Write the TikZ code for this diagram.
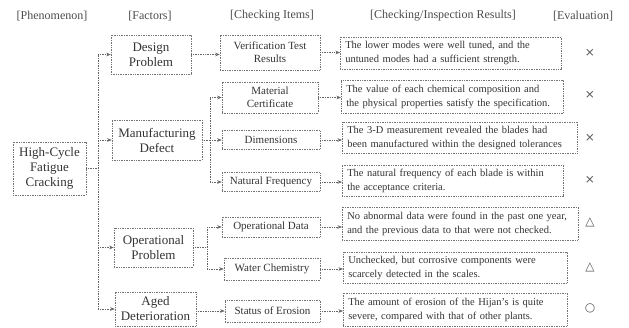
\documentclass[tikz,border=0pt]{standalone}
\usepackage{fontspec}
\setmainfont{Liberation Serif}
\newfontfamily\symbolfont{DejaVu Sans}
\usetikzlibrary{
  calc,
  arrows.meta,
  positioning}

\begin{document}
\begin{tikzpicture}[x=1pt,y=-1pt]
  \tikzset{box/.style={draw=black!55,
                       dash pattern=on 0.8pt off 0.9pt,
                       line width=0.5pt,
                       text=black!80,
                       align=center,
                       inner sep=2pt},
           factorbox/.style={box,font=\fontsize{13}{15}\selectfont},
           itembox/.style={box,font=\fontsize{11}{13}\selectfont},
           resultbox/.style={box,anchor=west,align=left,inner xsep=5pt,
                             font=\fontsize{10.5}{14}\selectfont},
           header/.style={text=black!70,font=\fontsize{12}{14}\selectfont},
           evalmark/.style={text=black!65,font=\symbolfont\fontsize{12}{14}\selectfont},
           link/.style={draw=black!60,dash pattern=on 0.8pt off 0.9pt,line width=0.5pt},
           arrowlink/.style={link,-{Stealth[length=4.5pt,width=3.5pt]}}
          }

\useasboundingbox (0,0) rectangle (629,327);

%%%%%%%%%%%%%%%%%%%%%%%%%%%%%%%%%%%%%%%%%%%%%%%%%%%%%%%%%%%%%%%%%%%%%%%%%%%%%%

\node[header] (HPH) at (52,16) {[Phenomenon]};
\node[header] (HFA) at (150,16) {[Factors]};
\node[header] (HCI) at (272,16) {[Checking Items]};
\node[header] (HCR) at (443,16) {[Checking/Inspection Results]};
\node[header] (HEV) at (583,16) {[Evaluation]};

%%%%%%%%%%%%%%%%%%%%%%%%%%%%%%%%%%%%%%%%%%%%%%%%%%%%%%%%%%%%%%%%%%%%%%%%%%%%%%

\node[factorbox,minimum width=73pt,minimum height=53pt] (HCFC) at (49.5,168.5) {High-Cycle\\Fatigue\\Cracking};

\node[factorbox,minimum width=80pt,minimum height=39pt] (DP) at (151,54.5) {Design\\Problem};
\node[factorbox,minimum width=90pt,minimum height=40pt] (MD) at (157,140) {Manufacturing\\Defect};
\node[factorbox,minimum width=79pt,minimum height=39pt] (OP) at (153.5,247.5) {Operational\\Problem};
\node[factorbox,minimum width=81pt,minimum height=34pt] (AD) at (155.5,309) {Aged\\Deterioration};

%%%%%%%%%%%%%%%%%%%%%%%%%%%%%%%%%%%%%%%%%%%%%%%%%%%%%%%%%%%%%%%%%%%%%%%%%%%%%%

\node[itembox,minimum width=100pt,minimum height=35pt] (VTR) at (270,52.5) {Verification Test\\Results};
\node[itembox,minimum width=96pt,minimum height=31pt] (MC) at (270,97.5) {Material\\Certificate};
\node[itembox,minimum width=98pt,minimum height=19pt] (DIM) at (271,140) {Dimensions};
\node[itembox,minimum width=98pt,minimum height=19pt] (NF) at (271,182) {Natural Frequency};
\node[itembox,minimum width=98pt,minimum height=20pt] (OD) at (271,227) {Operational Data};
\node[itembox,minimum width=96pt,minimum height=22pt] (WC) at (272,269) {Water Chemistry};
\node[itembox,minimum width=95pt,minimum height=22pt] (SE) at (272.5,311) {Status of Erosion};

%%%%%%%%%%%%%%%%%%%%%%%%%%%%%%%%%%%%%%%%%%%%%%%%%%%%%%%%%%%%%%%%%%%%%%%%%%%%%%

\node[resultbox,text width=211pt,minimum height=32pt] (R1) at (340,53) {The lower modes were well tuned, and the\\untuned modes had a sufficient strength.};
\node[resultbox,text width=212pt,minimum height=33pt] (R2) at (341,96.5) {The value of each chemical composition and\\the physical properties satisfy the specification.};
\node[resultbox,text width=225pt,minimum height=31pt] (R3) at (342,137.5) {The 3-D measurement revealed the blades had\\been manufactured within the designed tolerances};
\node[resultbox,text width=211pt,minimum height=31pt] (R4) at (342,180.5) {The natural frequency of each blade is within\\the acceptance criteria.};
\node[resultbox,text width=226pt,minimum height=33pt] (R5) at (342,223.5) {No abnormal data were found in the past one year,\\and the previous data to that were not checked.};
\node[resultbox,text width=214pt,minimum height=31pt] (R6) at (343,267.5) {Unchecked, but corrosive components were\\scarcely detected in the scales.};
\node[resultbox,text width=214pt,minimum height=33pt] (R7) at (343,309.5) {The amount of erosion of the Hijan's is quite\\severe, compared with that of other plants.};

%%%%%%%%%%%%%%%%%%%%%%%%%%%%%%%%%%%%%%%%%%%%%%%%%%%%%%%%%%%%%%%%%%%%%%%%%%%%%%

\node[evalmark] (E1) at (590,53) {×};
\node[evalmark] (E2) at (590,95) {×};
\node[evalmark] (E3) at (590,138) {×};
\node[evalmark] (E4) at (590,180) {×};
\node[evalmark] (E5) at (590,222) {△};
\node[evalmark] (E6) at (590,267) {△};
\node[evalmark] (E7) at (590,308) {○};

%%%%%%%%%%%%%%%%%%%%%%%%%%%%%%%%%%%%%%%%%%%%%%%%%%%%%%%%%%%%%%%%%%%%%%%%%%%%%%

\coordinate (T) at ($(HCFC.east)+(12,0)$);
\coordinate (TM) at ($(MD.east)+(8,0)$);
\coordinate (TO) at ($(OP.east)+(14,0)$);

\draw[link]  (HCFC.east) -- (T);
\draw[link]  (T |- DP.west) -- (T |- AD.west);
\draw[arrowlink]  (T |- DP.west) -- (DP.west);
\draw[arrowlink]  (T |- MD.west) -- (MD.west);
\draw[arrowlink]  (T |- OP.west) -- (OP.west);
\draw[arrowlink]  (T |- AD.west) -- (AD.west);

\draw[arrowlink]  (DP.east) -- (DP.east -| VTR.west);

\draw[link]  (MD.east) -- (TM);
\draw[link]  (TM |- MC.west) -- (TM |- NF.west);
\draw[arrowlink]  (TM |- MC.west) -- (MC.west);
\draw[arrowlink]  (TM |- DIM.west) -- (DIM.west);
\draw[arrowlink]  (TM |- NF.west) -- (NF.west);

\draw[link]  (OP.east) -- (TO);
\draw[link]  (TO |- OD.west) -- (TO |- WC.west);
\draw[arrowlink]  (TO |- OD.west) -- (OD.west);
\draw[arrowlink]  (TO |- WC.west) -- (WC.west);

\draw[arrowlink]  (AD.east |- SE.west) -- (SE.west);

%%%%%%%%%%%%%%%%%%%%%%%%%%%%%%%%%%%%%%%%%%%%%%%%%%%%%%%%%%%%%%%%%%%%%%%%%%%%%%
\draw[arrowlink]  (VTR.east) -- (VTR.east -| R1.west);
\draw[arrowlink]  (MC.east) -- (MC.east -| R2.west);
\draw[arrowlink]  (DIM.east) -- (DIM.east -| R3.west);
\draw[arrowlink]  (NF.east) -- (NF.east -| R4.west);
\draw[arrowlink]  (OD.east) -- (OD.east -| R5.west);
\draw[arrowlink]  (WC.east) -- (WC.east -| R6.west);
\draw[arrowlink]  (SE.east) -- (SE.east -| R7.west);

%%%%%%%%%%%%%%%%%%%%%%%%%%%%%%%%%%%%%%%%%%%%%%%%%%%%%%%%%%%%%%%%%%%%%%%%%%%%%%

\end{tikzpicture}
\end{document}
